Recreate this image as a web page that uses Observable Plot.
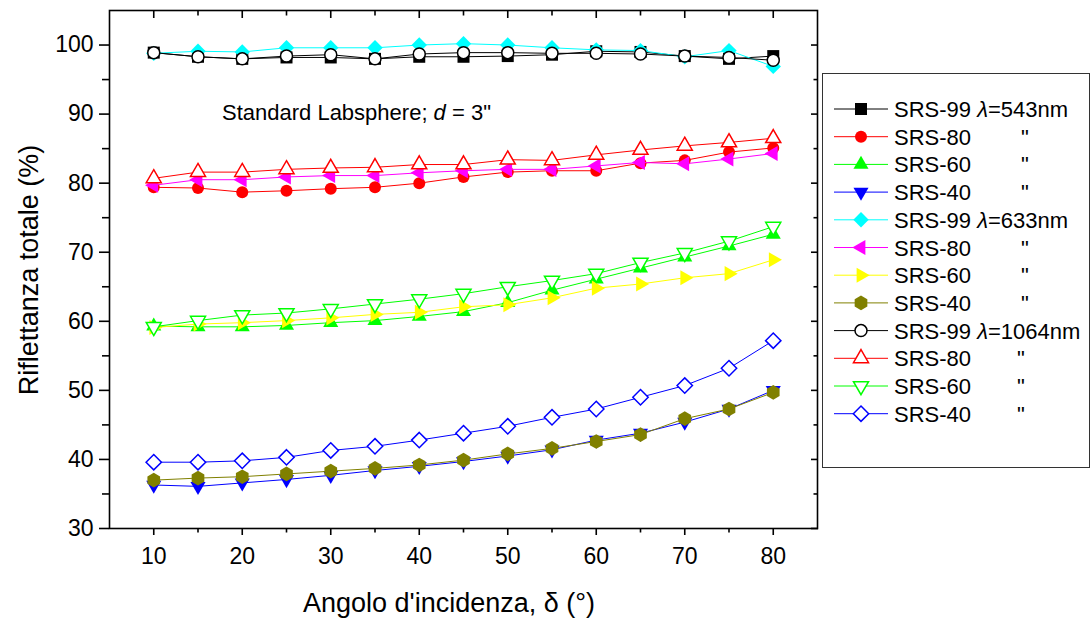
<!DOCTYPE html>
<html><head><meta charset="utf-8">
<script src="https://cdn.jsdelivr.net/npm/d3@7"></script>
<script src="https://cdn.jsdelivr.net/npm/@observablehq/plot@0.6"></script>
<style>
body{margin:0;background:#fff;font-family:Arial,"Liberation Sans",sans-serif;}
#wrap{position:relative;width:1092px;height:621px;overflow:hidden;}
#wrap > svg{position:absolute;left:0;top:0;}
#legend{position:absolute;left:822px;top:73px;width:268px;height:395px;border:1px solid #333;box-sizing:border-box;background:#fff;}
#overlay{position:absolute;left:0;top:0;pointer-events:none;}
</style>
</head><body><div id="wrap"></div>
<script>
// ---- data ----
const angles = [10, 15, 20, 25, 30, 35, 40, 45, 50, 55, 60, 65, 70, 75, 80];
const srs99_543  = [98.9, 98.3, 98.0, 98.2, 98.2, 98.0, 98.3, 98.3, 98.4, 98.6, 99.1, 99.0, 98.4, 98.0, 98.4];
const srs80_543  = [79.4, 79.3, 78.7, 78.9, 79.2, 79.4, 80.0, 80.9, 81.6, 81.8, 81.8, 82.9, 83.3, 84.5, 85.1];
const srs60_543  = [59.3, 59.2, 59.2, 59.4, 59.8, 60.1, 60.7, 61.4, 62.7, 64.5, 66.1, 67.7, 69.3, 70.9, 72.6];
const srs40_543  = [36.3, 36.1, 36.6, 37.1, 37.7, 38.4, 39.0, 39.7, 40.5, 41.4, 42.8, 43.8, 45.4, 47.3, 50.0];
const srs99_633  = [98.8, 99.1, 99.0, 99.6, 99.6, 99.6, 100.0, 100.2, 100.0, 99.6, 99.3, 99.2, 98.3, 99.2, 96.9];
const srs80_633  = [79.7, 80.5, 80.5, 80.9, 81.1, 81.1, 81.5, 81.8, 82.0, 82.0, 82.5, 83.0, 82.8, 83.5, 84.3];
const srs60_633  = [59.1, 59.6, 59.8, 60.1, 60.5, 61.0, 61.3, 62.1, 62.4, 63.4, 64.8, 65.4, 66.3, 66.9, 68.9];
const srs40_633  = [37.0, 37.3, 37.5, 37.9, 38.3, 38.7, 39.2, 39.9, 40.8, 41.6, 42.6, 43.6, 45.9, 47.3, 49.7];
const srs99_1064 = [98.9, 98.3, 98.0, 98.4, 98.6, 98.0, 98.7, 98.9, 98.9, 98.8, 98.8, 98.7, 98.4, 98.2, 97.8];
const srs80_1064 = [80.7, 81.6, 81.6, 82.0, 82.2, 82.3, 82.7, 82.7, 83.4, 83.3, 84.1, 84.8, 85.4, 85.9, 86.5];
const srs60_1064 = [59.2, 60.1, 60.9, 61.2, 61.8, 62.5, 63.2, 64.0, 65.0, 65.9, 66.9, 68.5, 69.9, 71.6, 73.7];
const srs40_1064 = [39.6, 39.6, 39.8, 40.3, 41.3, 41.9, 42.8, 43.8, 44.8, 46.1, 47.3, 49.0, 50.7, 53.2, 57.2];

const seriesNames = ["SRS-99", "SRS-80", "SRS-60", "SRS-40", "SRS-99", "SRS-80", "SRS-60", "SRS-40", "SRS-99", "SRS-80", "SRS-60", "SRS-40"];
const wavelengthLabels = ["543nm", "633nm", "1064nm"];
const xMajor = [10, 20, 30, 40, 50, 60, 70, 80];
const xMinor = [15, 25, 35, 45, 55, 65, 75];
const yMajor = [30, 40, 50, 60, 70, 80, 90, 100];
const yMinor = [35, 45, 55, 65, 75, 85, 95];
const xTitle = "Angolo d'incidenza, δ (°)";
const yTitle = "Riflettanza totale (%)";

// ---- symbols ----
const S3 = Math.sqrt(3) / 2;
const sym = fn => ({draw(ctx, size) { fn(ctx, Math.sqrt(size / Math.PI)); }});
const poly = pts => (ctx, r) => { pts.forEach(([x, y], i) => i ? ctx.lineTo(x * r, y * r) : ctx.moveTo(x * r, y * r)); ctx.closePath(); };
const k = 1.45;
const symSquare = sym(poly([[-1, -1], [1, -1], [1, 1], [-1, 1]]));
const symCircle = sym((ctx, r) => { ctx.moveTo(r, 0); ctx.arc(0, 0, r, 0, 2 * Math.PI); ctx.closePath(); });
const symUp = sym(poly([[0, -k], [k * S3, k / 2], [-k * S3, k / 2]]));
const symDown = sym(poly([[0, k], [k * S3, -k / 2], [-k * S3, -k / 2]]));
const symLeft = sym(poly([[-k, 0], [k / 2, -k * S3], [k / 2, k * S3]]));
const symRight = sym(poly([[k, 0], [-k / 2, -k * S3], [-k / 2, k * S3]]));
const symDiamond = sym(poly([[0, -1.28], [1.28, 0], [0, 1.28], [-1.28, 0]]));
const symHex = sym(poly(d3.range(6).map(i => [1.22 * Math.sin(i * Math.PI / 3), -1.22 * Math.cos(i * Math.PI / 3)])));

const series = [
  {values: srs99_543,  color: "#000000", symbol: symSquare,  open: false},
  {values: srs80_543,  color: "#ff0000", symbol: symCircle,  open: false},
  {values: srs60_543,  color: "#00ff00", symbol: symUp,      open: false},
  {values: srs40_543,  color: "#0000ff", symbol: symDown,    open: false},
  {values: srs99_633,  color: "#00ffff", symbol: symDiamond, open: false},
  {values: srs80_633,  color: "#ff00ff", symbol: symLeft,    open: false},
  {values: srs60_633,  color: "#ffff00", symbol: symRight,   open: false},
  {values: srs40_633,  color: "#808000", symbol: symHex,     open: false},
  {values: srs99_1064, color: "#000000", symbol: symCircle,  open: true},
  {values: srs80_1064, color: "#ff0000", symbol: symUp,      open: true},
  {values: srs60_1064, color: "#00ff00", symbol: symDown,    open: true},
  {values: srs40_1064, color: "#0000ff", symbol: symDiamond, open: true}
].map((s, i) => ({...s, name: seriesNames[i], wl: i % 4 === 0 ? wavelengthLabels[i / 4] : null,
  rows: angles.map((a, j) => ({angle: a, value: s.values[j]}))}));

const seriesMarks = series.flatMap(s => [
  Plot.line(s.rows, {x: "angle", y: "value", stroke: s.color, strokeWidth: 1}),
  Plot.dot(s.rows, {x: "angle", y: "value", symbol: s.symbol, r: 6,
    fill: s.open ? "#ffffff" : s.color, stroke: s.open ? s.color : "none", strokeWidth: s.open ? 1.5 : 0})
]);

const blank = () => "";
const chart = Plot.plot({
  width: 820, height: 621,
  marginLeft: 109, marginRight: 3, marginTop: 10, marginBottom: 93,
  x: {domain: [5, 85]},
  y: {domain: [30, 105]},
  style: {fontFamily: "Arial, 'Liberation Sans', sans-serif", fontSize: "23px", color: "#000", background: "transparent", overflow: "visible"},
  marks: [
    ...seriesMarks,
    Plot.frame({stroke: "#000", strokeWidth: 1.6}),
    Plot.axisX({ticks: xMajor, tickSize: 7, tickPadding: 12, strokeWidth: 1.6, label: null, fontSize: 23}),
    Plot.axisX({ticks: xMinor, tickSize: 4.5, tickFormat: blank, strokeWidth: 1.6, label: null}),
    Plot.axisX({anchor: "top", ticks: xMajor, tickSize: -7, tickFormat: blank, strokeWidth: 1.6, label: null}),
    Plot.axisX({anchor: "top", ticks: xMinor, tickSize: -4.5, tickFormat: blank, strokeWidth: 1.6, label: null}),
    Plot.axisY({ticks: yMajor, tickSize: 10, tickPadding: 6, strokeWidth: 1.6, label: null, fontSize: 23}),
    Plot.axisY({ticks: yMinor, tickSize: 7, tickFormat: blank, strokeWidth: 1.6, label: null}),
    Plot.axisY({anchor: "right", ticks: yMajor, tickSize: -7, tickFormat: blank, strokeWidth: 1.6, label: null}),
    Plot.axisY({anchor: "right", ticks: yMinor, tickSize: -4.5, tickFormat: blank, strokeWidth: 1.6, label: null})
  ]
});

const wrap = document.getElementById("wrap");
wrap.appendChild(chart);

// titles & annotation overlay
const ov = d3.select(wrap).append("svg").attr("id", "overlay").attr("width", 1092).attr("height", 621)
  .style("font-family", "Arial, 'Liberation Sans', sans-serif");
ov.append("text").attr("x", 449).attr("y", 612).attr("text-anchor", "middle").attr("font-size", 27).text(xTitle);
ov.append("text").attr("transform", "translate(38,270) rotate(-90)").attr("text-anchor", "middle").attr("font-size", 27).text(yTitle);
const note = ov.append("text").attr("x", 222).attr("y", 120).attr("font-size", 22);
note.append("tspan").text("Standard Labsphere; ");
note.append("tspan").attr("font-style", "italic").text("d");
note.append("tspan").text(" = 3\"");

// legend
const leg = d3.select(wrap).append("div").attr("id", "legend");
const ls = leg.append("svg").attr("width", 266).attr("height", 393)
  .style("font-family", "Arial, 'Liberation Sans', sans-serif").style("font-size", "22px");
series.forEach((s, i) => {
  const y = 35 + 27.7 * i;
  const g = ls.append("g").attr("transform", `translate(0,${y})`);
  g.append("line").attr("x1", 11).attr("x2", 65).attr("y1", 0).attr("y2", 0).attr("stroke", s.color).attr("stroke-width", 1);
  const p = d3.path(); s.symbol.draw(p, 36 * Math.PI);
  g.append("path").attr("transform", "translate(38,0)").attr("d", p.toString())
    .attr("fill", s.open ? "#fff" : s.color).attr("stroke", s.open ? s.color : "none").attr("stroke-width", 1.5);
  const t = g.append("text").attr("x", 71).attr("y", 8);
  t.append("tspan").text(s.name + " ");
  if (s.wl) {
    t.append("tspan").attr("font-style", "italic").text("λ");
    t.append("tspan").text("=" + s.wl);
  } else {
    g.append("text").attr("x", i > 8 ? 194 : 198).attr("y", 8).text("\"");
  }
});
</script>
</body></html>
